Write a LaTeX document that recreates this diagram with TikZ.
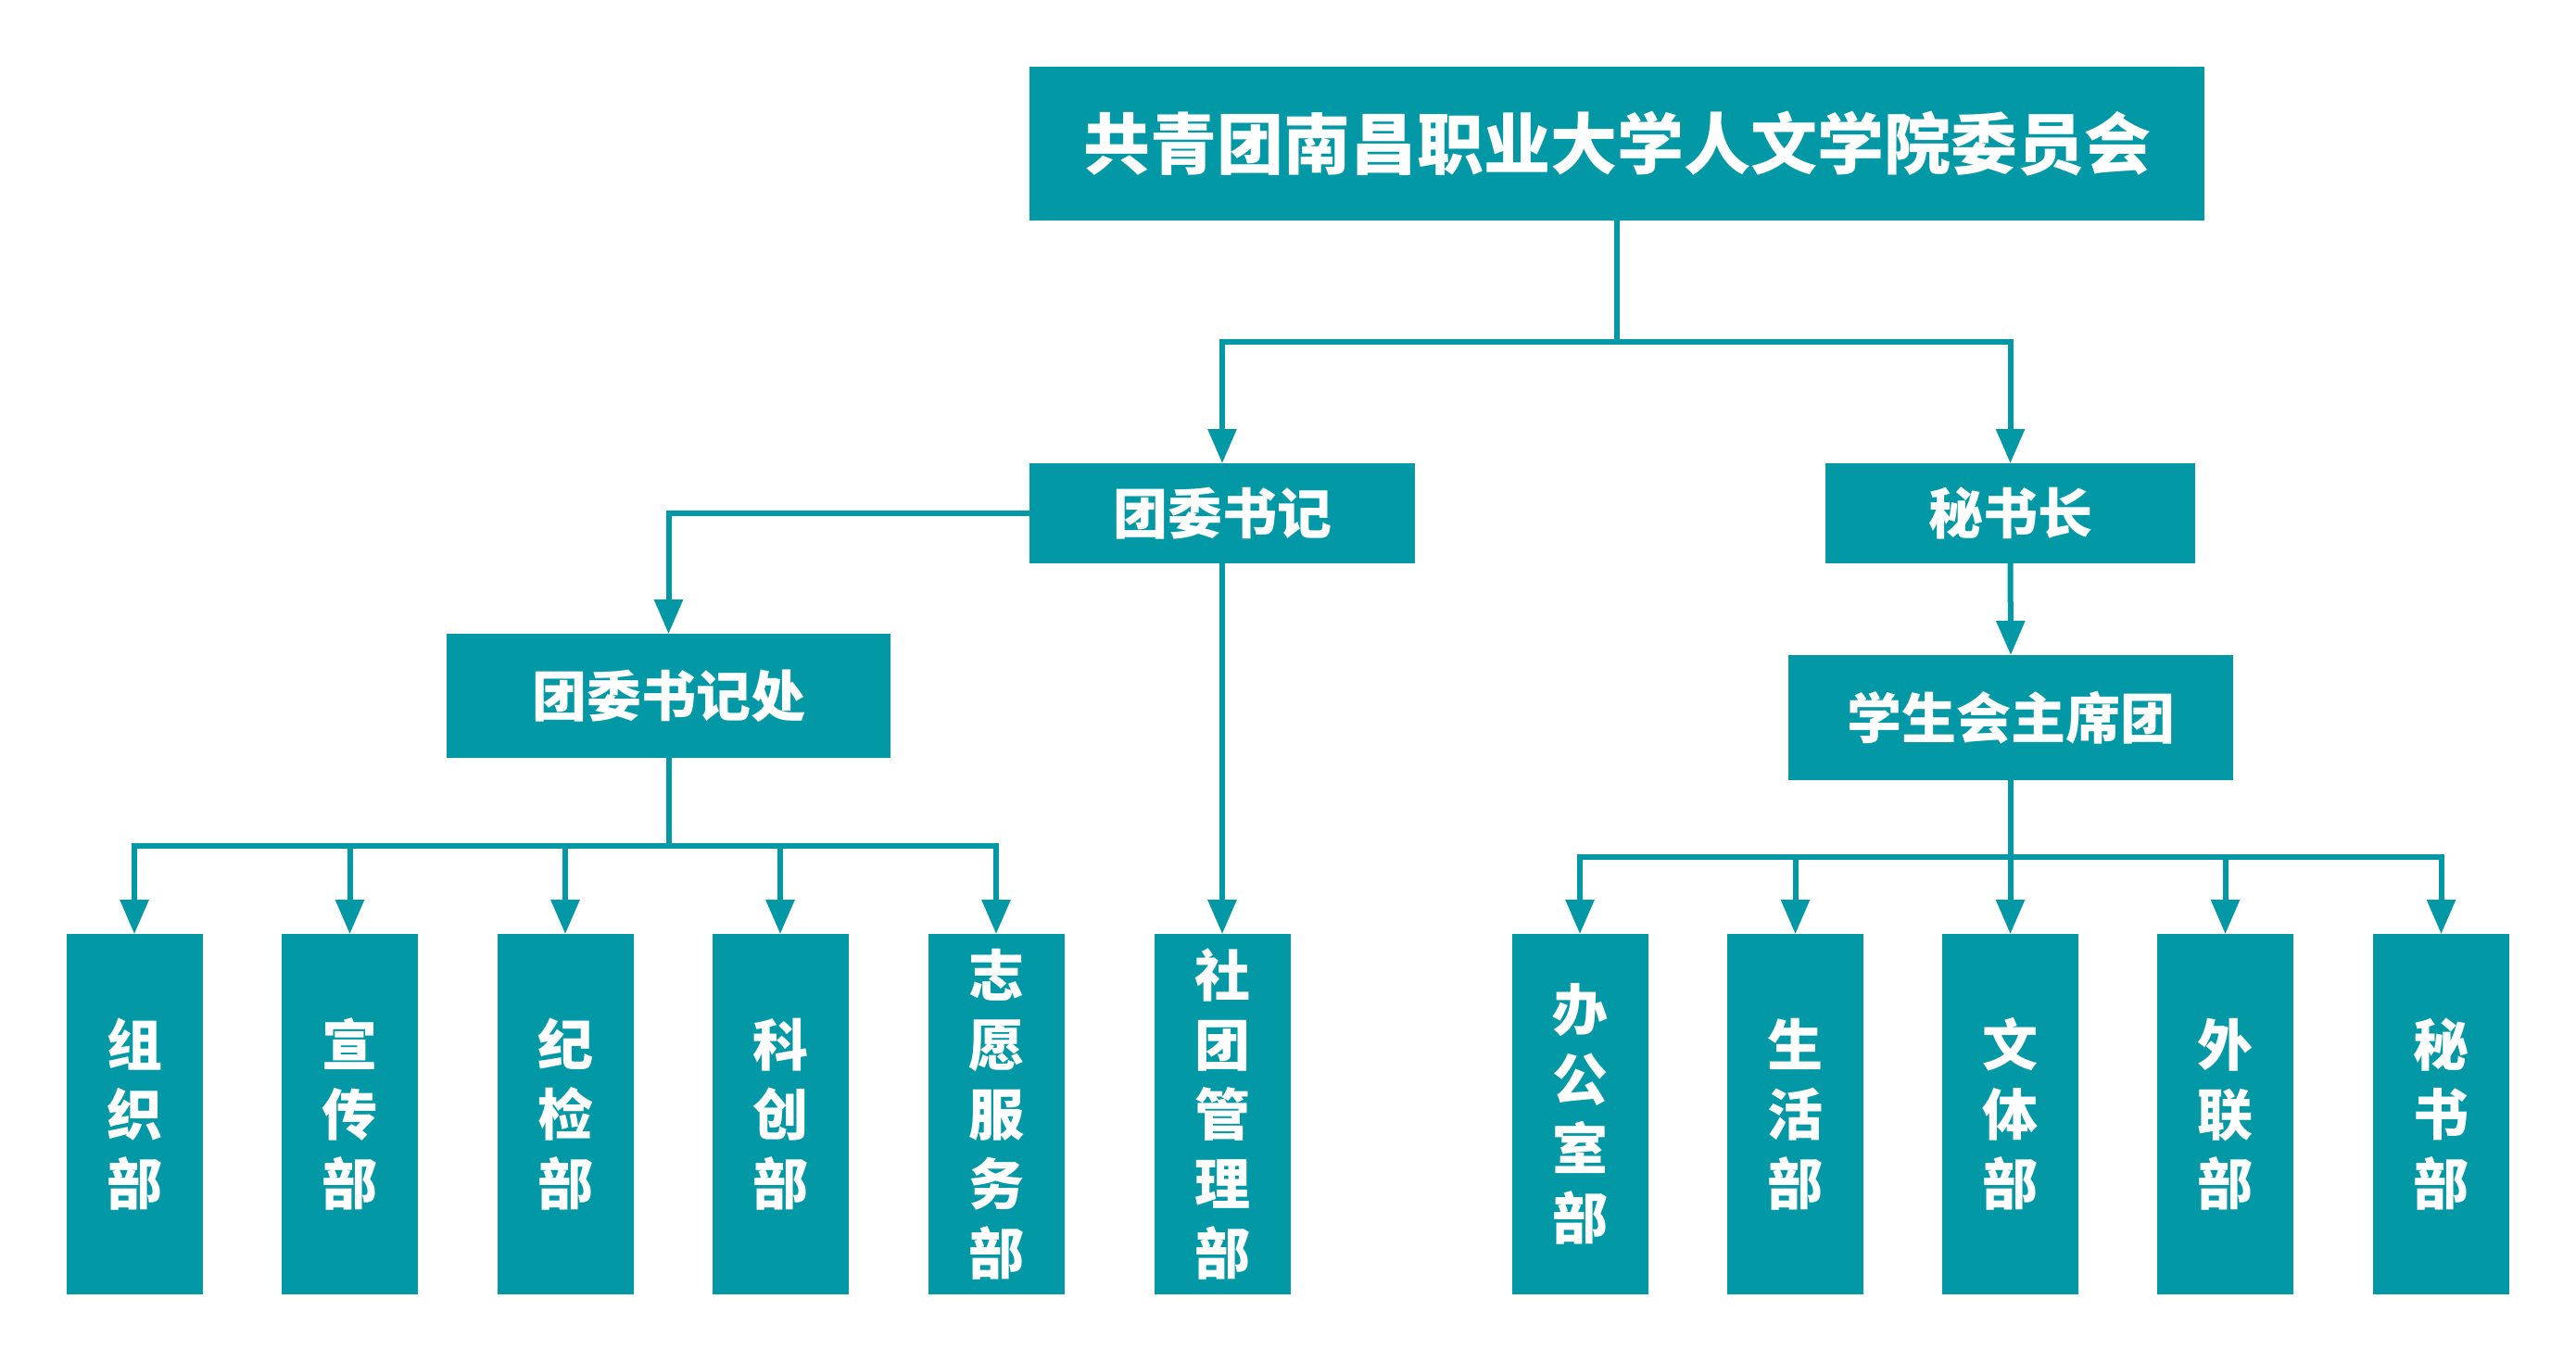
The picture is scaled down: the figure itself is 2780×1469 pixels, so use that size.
\documentclass[tikz,border=0pt]{standalone}
\usepackage{fontspec}
\newfontfamily\cjk{Noto Sans CJK SC}
\usetikzlibrary{arrows.meta}
\definecolor{teal1}{RGB}{3,152,166}
\begin{document}
\begin{tikzpicture}[x=0.25pt,y=-0.25pt,
  box/.style={fill=teal1,draw=none,inner sep=0pt,outer sep=0pt,text=white,align=center,font=\cjk\bfseries},
  topbox/.style={box,font=\cjk\bfseries\fontsize{18}{21}\selectfont},
  midbox/.style={box,font=\cjk\bfseries\fontsize{14.75}{18}\selectfont},
  vbox/.style={box,minimum width=147*0.25pt,minimum height=389*0.25pt,font=\cjk\bfseries\fontsize{15}{18.75}\selectfont},
  conn/.style={draw=teal1,line width=1.5pt},
  arr/.style={conn,-{Triangle[length=9.25pt,width=7.5pt]}}]
\useasboundingbox (0,0) rectangle (2780,1469);
\fill[white] (0,0) rectangle (2780,1469);

\node[topbox,minimum width=1268*0.25pt,minimum height=166*0.25pt] (title) at (1745,155) {共青团南昌职业大学人文学院委员会};
\node[midbox,minimum width=416*0.25pt,minimum height=108*0.25pt] (tw) at (1319,554) {团委书记};
\node[midbox,minimum width=399*0.25pt,minimum height=108*0.25pt] (msz) at (2169.5,554) {秘书长};
\node[midbox,minimum width=479*0.25pt,minimum height=134*0.25pt] (twc) at (721.5,751) {团委书记处};
\node[midbox,minimum width=480*0.25pt,minimum height=135*0.25pt] (xsh) at (2170,774.5) {学生会主席团};

\node[vbox] (l1) at (145,1202.5) {组\\织\\部};
\node[vbox] (l2) at (377.5,1202.5) {宣\\传\\部};
\node[vbox] (l3) at (610,1202.5) {纪\\检\\部};
\node[vbox] (l4) at (842,1202.5) {科\\创\\部};
\node[vbox] (l5) at (1075,1202.5) {志\\愿\\服\\务\\部};
\node[vbox] (l6) at (1319,1202.5) {社\\团\\管\\理\\部};

\node[vbox] (r1) at (1705,1202.5) {办\\公\\室\\部};
\node[vbox] (r2) at (1937.5,1202.5) {生\\活\\部};
\node[vbox] (r3) at (2169.5,1202.5) {文\\体\\部};
\node[vbox] (r4) at (2401.5,1202.5) {外\\联\\部};
\node[vbox] (r5) at (2634.5,1202.5) {秘\\书\\部};

\coordinate (b1) at (1745,369);
\coordinate (b2) at (721.5,913);
\coordinate (b3) at (2170,925);

\draw[conn] (title.south) -- (b1);
\draw[arr] (b1) -| (tw.north);
\draw[arr] (b1) -| (msz.north);
\draw[arr] (tw.west) -| (twc.north);
\draw[arr] (tw.south) -- (l6.north);
\draw[arr] (msz.south) -- (xsh.north);

\draw[conn] (twc.south) -- (b2);
\foreach \n in {l1,l2,l3,l4,l5} \draw[arr] (b2) -| (\n.north);
\draw[conn] (xsh.south) -- (b3);
\foreach \n in {r1,r2,r3,r4,r5} \draw[arr] (b3) -| (\n.north);
\end{tikzpicture}
\end{document}
